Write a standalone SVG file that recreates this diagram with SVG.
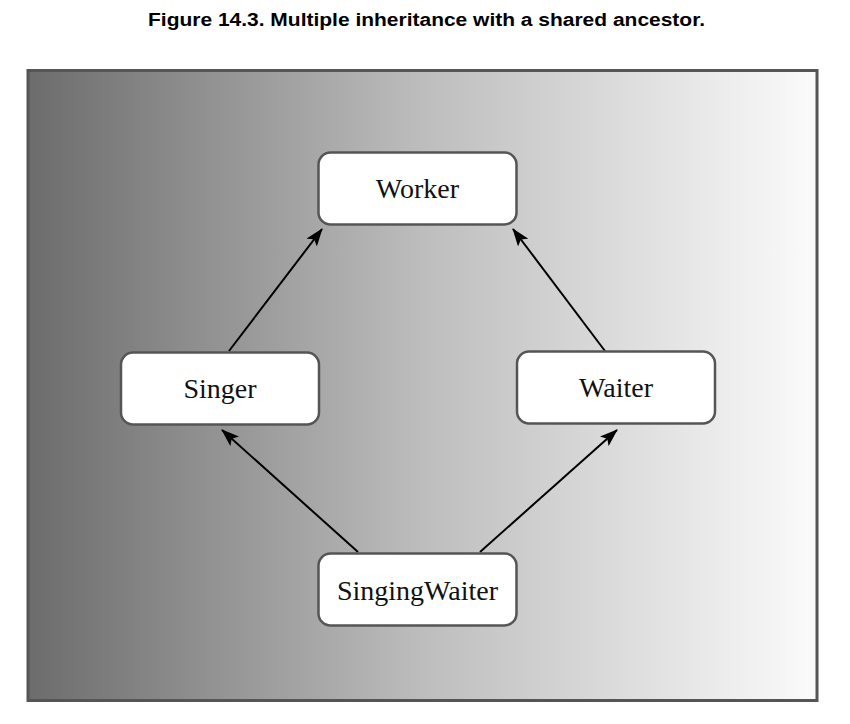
<svg xmlns="http://www.w3.org/2000/svg" width="850" height="724" viewBox="0 0 850 724">
<defs>
<linearGradient id="bg" x1="0" y1="0" x2="1" y2="0">
<stop offset="0" stop-color="#6c6c6c"/>
<stop offset="0.5" stop-color="#bdbdbd"/>
<stop offset="1" stop-color="#fbfbfb"/>
</linearGradient>
<marker id="arr" viewBox="0 0 18 13" refX="17" refY="6.5" markerWidth="18" markerHeight="13" markerUnits="userSpaceOnUse" orient="auto">
<path d="M0,0 L18,6.5 L0,13 L4,6.5 Z" fill="#000"/>
</marker>
</defs>
<style>
.title{font-family:"Liberation Sans",Arial,sans-serif;font-weight:bold;font-size:18px;fill:#000}
.node rect{fill:#fff;stroke:#555;stroke-width:2.5}
.node text{font-family:"Liberation Serif","Times New Roman",serif;font-size:28px;fill:#111;text-anchor:middle}
.edge{stroke:#000;stroke-width:2;fill:none;marker-end:url(#arr)}
</style>
<rect width="850" height="724" fill="#fff"/>
<text class="title" x="148" y="26" textLength="557" lengthAdjust="spacingAndGlyphs">Figure 14.3. Multiple inheritance with a shared ancestor.</text>
<rect x="28" y="70.5" width="789" height="630" fill="url(#bg)" stroke="#555" stroke-width="3"/>
<g id="connectors">
<line class="edge" x1="229" y1="351" x2="322" y2="229"/>
<line class="edge" x1="605" y1="351" x2="513" y2="229"/>
<line class="edge" x1="358" y1="552" x2="222" y2="430"/>
<line class="edge" x1="480" y1="552" x2="617" y2="430"/>
</g>
<g id="worker" class="node">
<rect x="318.5" y="152.5" width="198" height="72" rx="12"/>
<text x="417.5" y="198">Worker</text>
</g>
<g id="singer" class="node">
<rect x="121" y="352.5" width="198" height="72" rx="12"/>
<text x="220" y="398">Singer</text>
</g>
<g id="waiter" class="node">
<rect x="517" y="351.5" width="198" height="72" rx="12"/>
<text x="616" y="397">Waiter</text>
</g>
<g id="singingwaiter" class="node">
<rect x="318.5" y="553.5" width="198" height="72" rx="12"/>
<text x="417.5" y="600">SingingWaiter</text>
</g>
</svg>
